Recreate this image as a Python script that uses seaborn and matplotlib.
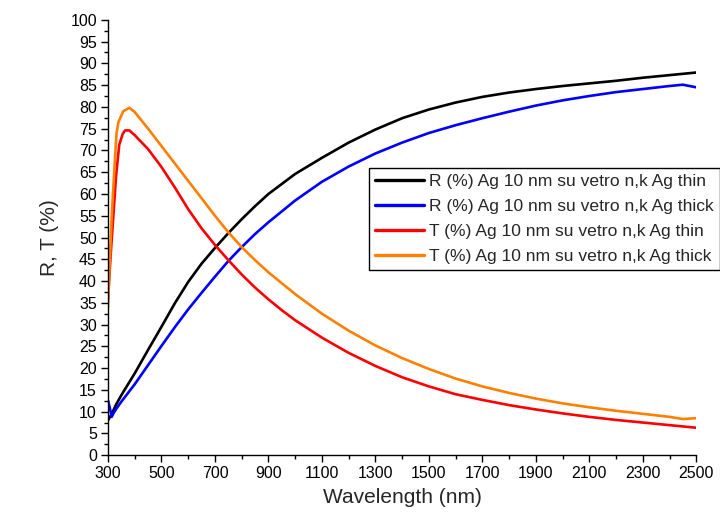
import numpy as np
import pandas as pd
import matplotlib
matplotlib.use("Agg")
import matplotlib.pyplot as plt
import seaborn as sns
from matplotlib.ticker import MultipleLocator
from matplotlib.lines import Line2D

# Data
wl_R_thin = [300, 314, 330, 350, 400, 450, 500, 550, 600, 650, 700, 750, 800, 850, 900, 1000, 1100,
             1200, 1300, 1400, 1500, 1600, 1700, 1800, 1900, 2000, 2100, 2200, 2300, 2400, 2500]
R_thin = [8.0, 9.5, 11.6, 13.8, 18.8, 24.2, 29.5, 34.9, 39.8, 44.0, 47.6, 51.0, 54.2, 57.2, 60.0, 64.6, 68.3,
          71.8, 74.8, 77.4, 79.4, 81.0, 82.3, 83.3, 84.1, 84.8, 85.4, 86.0, 86.7, 87.3, 87.9]

wl_R_thick = [300, 307, 314, 322, 335, 350, 400, 450, 500, 550, 600, 650, 700, 750, 800, 850, 900, 1000,
              1100, 1200, 1300, 1400, 1500, 1600, 1700, 1800, 1900, 2000, 2100, 2200, 2300, 2400, 2450, 2500]
R_thick = [12.6, 10.8, 8.8, 9.8, 11.0, 12.3, 16.3, 20.7, 25.1, 29.4, 33.5, 37.3, 41.0, 44.6, 47.8, 50.8, 53.5, 58.5,
           62.8, 66.3, 69.3, 71.8, 74.0, 75.8, 77.4, 78.9, 80.3, 81.5, 82.5, 83.4, 84.1, 84.8, 85.1, 84.5]

wl_T_thin = [300, 310, 320, 330, 342, 355, 364, 380, 400, 450, 500, 550, 600, 650, 700,
             750, 800, 850, 900, 950, 1000, 1100, 1200, 1300, 1400, 1500, 1600, 1700, 1800, 1900, 2000,
             2100, 2200, 2300, 2400, 2500]
T_thin = [36.0, 46.0, 55.0, 64.0, 71.3, 73.8, 74.6, 74.6, 73.5, 70.3, 66.2, 61.5, 56.5, 52.1, 48.3,
          44.8, 41.5, 38.5, 35.8, 33.3, 31.0, 27.0, 23.5, 20.5, 17.9, 15.8, 14.0, 12.7, 11.5, 10.5, 9.6,
          8.8, 8.1, 7.5, 6.9, 6.3]

wl_T_thick = [300, 307, 314, 325, 332, 339, 357, 380, 400, 450, 500, 550, 600, 650, 700, 750,
              800, 850, 900, 1000, 1100, 1200, 1300, 1400, 1500, 1600, 1700, 1800, 1900, 2000, 2100,
              2200, 2300, 2400, 2450, 2500]
T_thick = [34.0, 45.0, 55.0, 67.0, 74.0, 76.5, 79.0, 79.8, 78.8, 75.0, 71.0, 67.0, 63.0, 59.0, 55.0, 51.2,
           47.8, 44.8, 42.0, 37.0, 32.5, 28.6, 25.2, 22.3, 19.8, 17.6, 15.8, 14.3, 13.0, 11.9, 11.0,
           10.2, 9.5, 8.8, 8.3, 8.5]

labels = ["R (%) Ag 10 nm su vetro n,k Ag thin",
          "R (%) Ag 10 nm su vetro n,k Ag thick",
          "T (%) Ag 10 nm su vetro n,k Ag thin",
          "T (%) Ag 10 nm su vetro n,k Ag thick"]
colors = ["#000000", "#0000ff", "#ff0000", "#ff8000"]

xs = [wl_R_thin, wl_R_thick, wl_T_thin, wl_T_thick]
ys = [R_thin, R_thick, T_thin, T_thick]
frames = []
for lab, x, y in zip(labels, xs, ys):
    frames.append(pd.DataFrame({"wl": x, "val": y, "series": lab}))
df = pd.concat(frames, ignore_index=True)

sns.set_style("ticks")
plt.rcParams['font.family'] = ['Liberation Sans', 'DejaVu Sans']

fig = plt.figure(figsize=(7.2, 5.22), dpi=100)
ax = fig.add_axes([0.15, 0.128, 0.817, 0.834])

sns.lineplot(data=df, x="wl", y="val", hue="series", hue_order=labels,
             palette=colors, linewidth=1.9, ax=ax, sort=False, legend=False)

ax.set_xlim(300, 2500)
ax.set_ylim(0, 100)
ax.set_xticks(list(range(300, 2501, 200)))
ax.xaxis.set_minor_locator(MultipleLocator(100))
ax.yaxis.set_major_locator(MultipleLocator(5))
ax.yaxis.set_minor_locator(MultipleLocator(2.5))
ax.tick_params(axis='both', which='major', direction='out', length=5, width=1,
               labelsize=11.5, color='black', labelcolor='black', pad=3)
ax.tick_params(axis='both', which='minor', direction='out', length=3, width=1, color='black')
for s in ['top', 'right']:
    ax.spines[s].set_visible(False)
for s in ['left', 'bottom']:
    ax.spines[s].set_color('black')
    ax.spines[s].set_linewidth(1)

ax.set_xlabel("Wavelength (nm)", fontsize=15, labelpad=5)
ax.set_ylabel("R, T (%)", fontsize=15, labelpad=8)

handles = [Line2D([0], [0], color=c, lw=2.4) for c in colors]
leg = ax.legend(handles, labels, loc='upper left', bbox_to_anchor=(369/720, 1 - 168/522),
                bbox_transform=fig.transFigure, fontsize=12.6, frameon=True, fancybox=False,
                edgecolor='black', borderpad=0.35, labelspacing=0.55, handlelength=2.8,
                handletextpad=0.3, borderaxespad=0, framealpha=1)
leg.get_frame().set_linewidth(1)

fig.savefig("out.png", dpi=100)
